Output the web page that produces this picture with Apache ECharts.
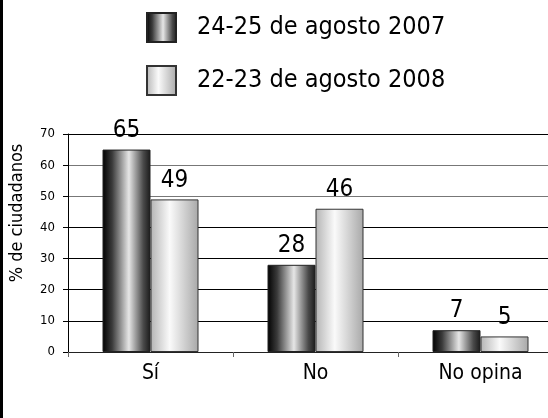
<!DOCTYPE html>
<html>
<head>
<meta charset="utf-8">
<script src="https://cdn.jsdelivr.net/npm/echarts@6/dist/echarts.min.js"></script>
<style>
  html, body { margin: 0; padding: 0; background: #fff; }
  #chart { width: 548px; height: 418px; }
</style>
</head>
<body>
<div id="chart"></div>
<script>
// data
const categories = ["Sí", "No", "No opina"];
const seriesNames = ["24-25 de agosto 2007", "22-23 de agosto 2008"];
const values2007 = [65, 28, 7];
const values2008 = [49, 46, 5];
const yTicks = { min: 0, max: 70, interval: 10 };

const font = "'Liberation Sans Narrow', 'DejaVu Sans Condensed', sans-serif";

const darkFill = new echarts.graphic.LinearGradient(0, 0, 1, 0, [
  { offset: 0, color: "#000" },
  { offset: 0.2, color: "#3a3a3a" },
  { offset: 0.55, color: "#e6e6e6" },
  { offset: 0.85, color: "#4a4a4a" },
  { offset: 1, color: "#1a1a1a" },
]);
const lightFill = new echarts.graphic.LinearGradient(0, 0, 1, 0, [
  { offset: 0, color: "#b4b4b4" },
  { offset: 0.4, color: "#fafafa" },
  { offset: 1, color: "#a8a8a8" },
]);

const chart = echarts.init(document.getElementById("chart"));

const barLabel = {
  show: true,
  position: "top",
  distance: 7,
  fontFamily: font,
  fontSize: 24,
  color: "#000",
};

chart.setOption({
  animation: false,
  textStyle: { fontFamily: font },
  legend: {
    orient: "vertical",
    left: 141,
    top: 7,
    itemWidth: 29,
    itemHeight: 29,
    itemGap: 22,
    icon: "rect",
    textStyle: { fontSize: 25, color: "#000", padding: [0, 0, 0, 16] },
    data: seriesNames,
  },
  // plot runs past the right edge: the last category is cut off
  grid: { left: 68, width: 495, top: 134, bottom: 66, outerBoundsMode: "none" },
  xAxis: {
    type: "category",
    data: categories,
    axisLine: { lineStyle: { color: "#222", width: 1 } },
    axisTick: { show: true, length: 5, lineStyle: { color: "#666" } },
    axisLabel: { fontSize: 21, color: "#000", margin: 11 },
  },
  yAxis: {
    type: "value",
    min: yTicks.min,
    max: yTicks.max,
    interval: yTicks.interval,
    axisLine: { show: true, lineStyle: { color: "#000", width: 1 } },
    axisTick: { show: true, length: 5, lineStyle: { color: "#000" } },
    axisLabel: { fontSize: 13, color: "#000", margin: 13 },
    splitLine: {
      lineStyle: {
        color: ["#000", "#000", "#000", "#000", "#000", "#777", "#777", "#000"],
        width: 1,
      },
    },
  },
  graphic: [
    { type: "rect", left: 0, top: 0, shape: { width: 3, height: 418 }, style: { fill: "#000" } },
    {
      type: "text",
      x: 17,
      y: 213,
      rotation: Math.PI / 2,
      style: {
        text: "% de ciudadanos",
        font: "18px " + font,
        fill: "#000",
        align: "center",
        verticalAlign: "middle",
      },
    },
  ],
  series: [
    {
      name: seriesNames[0],
      type: "bar",
      data: values2007,
      barWidth: 48,
      barGap: "0%",
      itemStyle: { color: darkFill, borderColor: "#222", borderWidth: 1 },
      label: barLabel,
    },
    {
      name: seriesNames[1],
      type: "bar",
      data: values2008,
      barWidth: 48,
      barGap: "0%",
      itemStyle: { color: lightFill, borderColor: "#333", borderWidth: 1 },
      label: barLabel,
    },
  ],
});
</script>
</body>
</html>
